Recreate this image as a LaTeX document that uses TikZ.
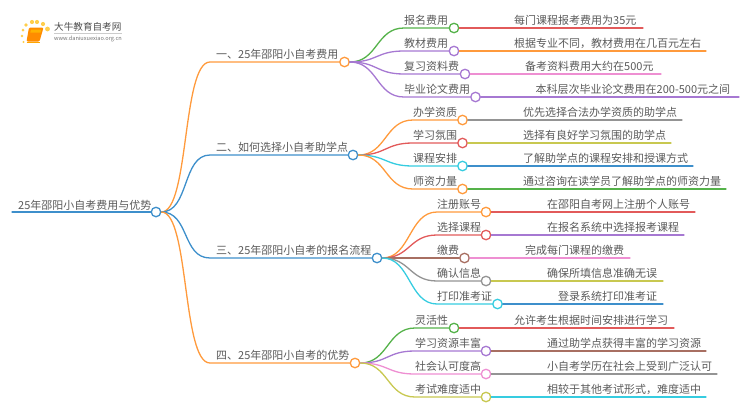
\documentclass[tikz,border=0pt]{standalone}
\usepackage{fontspec}
\setmainfont{Noto Sans CJK SC}
\definecolor{cOrange}{HTML}{FF9A3C}
\definecolor{cBlue}{HTML}{3D8FCB}
\definecolor{cGreen}{HTML}{55B24A}
\definecolor{cPurple}{HTML}{A678D2}
\definecolor{cRed}{HTML}{E25A5A}
\definecolor{cPink}{HTML}{EE8FD2}
\definecolor{cCyan}{HTML}{36CCE0}
\definecolor{cBrown}{HTML}{A86F62}
\definecolor{cGray}{HTML}{949494}
\definecolor{cOlive}{HTML}{C8C850}
\definecolor{cText}{HTML}{5A5A5A}
\tikzset{
  every node/.style={text=cText,font=\fontsize{11}{13}\selectfont},
  lbl/.style={anchor=west,inner sep=0pt},
  dot/.style={circle,draw=#1,fill=white,line width=1.3pt,minimum size=9.5pt,inner sep=0pt},
  conn/.style={draw=#1,line width=1.3pt,line cap=round},
}
\newcommand{\curveto}[4]{% colour, from, via coordinate, to
  \draw[conn=#1] (#2.east) .. controls +(28pt,0pt) and +(-28pt,0pt) .. (#3) -- (#4.west);}
\begin{document}
\begin{tikzpicture}[x=1pt,y=-1pt]
\useasboundingbox (0,0) rectangle (750,410);
% logo
\foreach \a/\b/\r in {23/30/1.5,26/25/1.8,32/22/2.1,37/22/2.1,43/24/2.1,47.5/29/2.4,22/36/1.3,23.5/42/1.1}
  \fill[orange!55!yellow,opacity=.7] (\a,\b) circle (\r);
\fill[orange!90!yellow,rounded corners=1.2pt] (29,27.5) -- (43.5,27.5) -- (39.5,41.5) -- (26.5,41.5) -- cycle;
\fill[orange!60!yellow] (31,29.5) -- (41.3,29.5) -- (40.6,32.5) -- (30.3,32.5) -- cycle;
\draw[orange!70!yellow,line width=.9pt] (26.5,42.3) -- (39.5,42.3);
\node[lbl,font=\fontsize{9.6}{11}\selectfont,text=black!70] (logotitle) at (54,27) {大牛教育自考网};
\node[lbl,font=\fontsize{5.6}{7}\selectfont,text=black!55] (logourl) at (54,38.5) {www.daniuxuexiao.org.cn};
\draw[black!20,line width=.5pt] (54,33.3) -- (122,33.3);
% root
\node[dot=cBlue] (root) at (156,212) {};
\coordinate (rootstart) at (12,212);
\node[lbl] (roottext) at (18,205) {25年邵阳小自考费用与优势};
\draw[conn=cBlue] (rootstart) -- (root.west);
% level 1
\foreach \n/\x/\y/\c/\t in {
  a/344.5/62/cOrange/一、25年邵阳小自考费用,
  b/353/155/cBlue/二、如何选择小自考助学点,
  c/377/258/cBlue/三、25年邵阳小自考的报名流程,
  d/355/363/cOrange/四、25年邵阳小自考的优势}{
  \node[dot=\c] (\n) at (\x,\y) {};
  \coordinate (\n via) at (210,\y);
  \curveto{\c}{root}{\n via}{\n}
  \node[lbl] (\n text) at (216,\y-7.5) {\t};
}
% level 2 and 3
\newcommand{\leaf}[9]{% parent, id, y, circle x, label x, branch colour, leaf colour, leaf end, leaf text x
  \node[dot=#6] (#2) at (#4,#3) {};
  \coordinate (#2via) at (#5,#3);
  \curveto{#6}{#1}{#2via}{#2}
  \coordinate (#2end) at (#8,#3);
  \draw[conn=#7] (#2.east) -- (#2end);
  \coordinate (#2lab) at (#5,#3-7.5);
  \coordinate (#2txt) at (#9,#3-7.5);
}
\leaf{a}{a1}{28}{454}{404}{cGreen}{cRed}{643}{514}
\node[lbl] (a1l) at (a1lab) {报名费用}; \node[lbl] (a1t) at (a1txt) {每门课程报考费用为35元};
\leaf{a}{a2}{51}{454}{404}{cPurple}{cOrange}{706}{514}
\node[lbl] (a2l) at (a2lab) {教材费用}; \node[lbl] (a2t) at (a2txt) {根据专业不同，教材费用在几百元左右};
\leaf{a}{a3}{74}{465}{404}{cPurple}{cPink}{661}{525}
\node[lbl] (a3l) at (a3lab) {复习资料费}; \node[lbl] (a3t) at (a3txt) {备考资料费用大约在500元};
\leaf{a}{a4}{97}{475.5}{404}{cPurple}{cPurple}{739}{535.5}
\node[lbl] (a4l) at (a4lab) {毕业论文费用}; \node[lbl] (a4t) at (a4txt) {本科层次毕业论文费用在200-500元之间};
\leaf{b}{b1}{120}{462.5}{413}{cOrange}{cGray}{682}{523}
\node[lbl] (b1l) at (b1lab) {办学资质}; \node[lbl] (b1t) at (b1txt) {优先选择合法办学资质的助学点};
\leaf{b}{b2}{143}{462.5}{413}{cRed}{cOlive}{671}{523}
\node[lbl] (b2l) at (b2lab) {学习氛围}; \node[lbl] (b2t) at (b2txt) {选择有良好学习氛围的助学点};
\leaf{b}{b3}{166}{462.5}{413}{cCyan}{cBlue}{693}{523}
\node[lbl] (b3l) at (b3lab) {课程安排}; \node[lbl] (b3t) at (b3txt) {了解助学点的课程安排和授课方式};
\leaf{b}{b4}{189}{462.5}{413}{cOrange}{cGreen}{726}{523}
\node[lbl] (b4l) at (b4lab) {师资力量}; \node[lbl] (b4t) at (b4txt) {通过咨询在读学员了解助学点的师资力量};
\leaf{c}{c1}{212}{486}{437}{cOrange}{cRed}{695}{547}
\node[lbl] (c1l) at (c1lab) {注册账号}; \node[lbl] (c1t) at (c1txt) {在邵阳自考网上注册个人账号};
\leaf{c}{c2}{235}{486}{437}{cRed}{cPurple}{684}{547}
\node[lbl] (c2l) at (c2lab) {选择课程}; \node[lbl] (c2t) at (c2txt) {在报名系统中选择报考课程};
\leaf{c}{c3}{258}{464.5}{437}{cBrown}{cPink}{630}{525}
\node[lbl] (c3l) at (c3lab) {缴费}; \node[lbl] (c3t) at (c3txt) {完成每门课程的缴费};
\leaf{c}{c4}{281}{486}{437}{cGray}{cOlive}{663}{547}
\node[lbl] (c4l) at (c4lab) {确认信息}; \node[lbl] (c4t) at (c4txt) {确保所填信息准确无误};
\leaf{c}{c5}{304}{497.5}{437}{cCyan}{cBlue}{663}{558}
\node[lbl] (c5l) at (c5lab) {打印准考证}; \node[lbl] (c5t) at (c5txt) {登录系统打印准考证};
\leaf{d}{d1}{328}{454}{415}{cGreen}{cRed}{674}{514}
\node[lbl] (d1l) at (d1lab) {灵活性}; \node[lbl] (d1t) at (d1txt) {允许考生根据时间安排进行学习};
\leaf{d}{d2}{351}{486}{415}{cPurple}{cBrown}{706}{547}
\node[lbl] (d2l) at (d2lab) {学习资源丰富}; \node[lbl] (d2t) at (d2txt) {通过助学点获得丰富的学习资源};
\leaf{d}{d3}{374}{486}{415}{cPink}{cGray}{717}{547}
\node[lbl] (d3l) at (d3lab) {社会认可度高}; \node[lbl] (d3t) at (d3txt) {小自考学历在社会上受到广泛认可};
\leaf{d}{d4}{397}{486}{415}{cOlive}{cCyan}{706}{547}
\node[lbl] (d4l) at (d4lab) {考试难度适中}; \node[lbl] (d4t) at (d4txt) {相较于其他考试形式，难度适中};
\end{tikzpicture}
\end{document}
